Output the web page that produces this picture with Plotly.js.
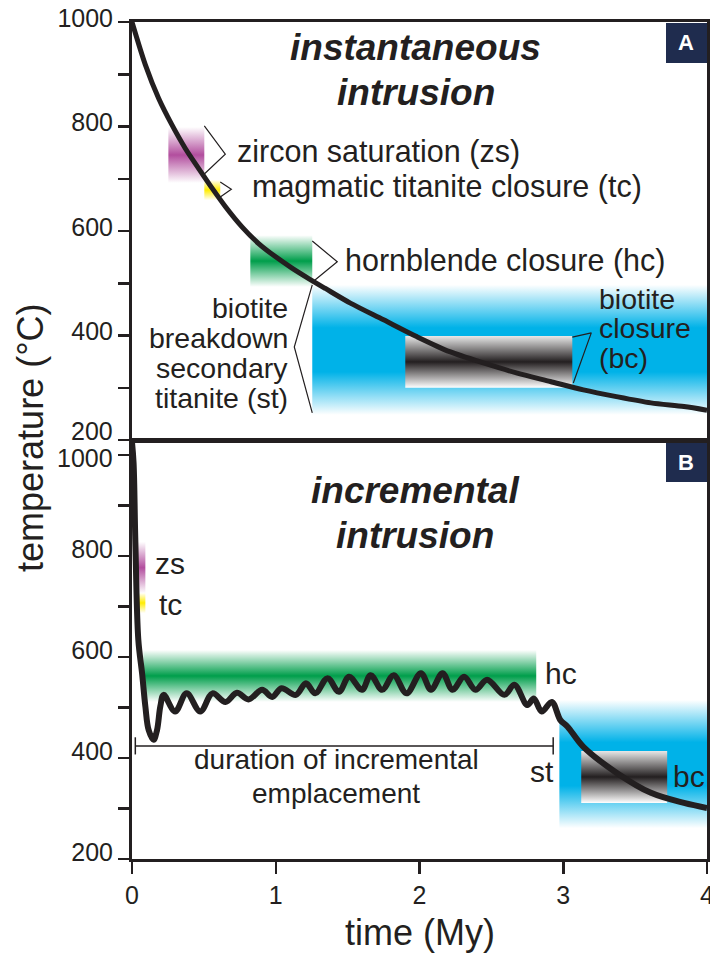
<!DOCTYPE html>
<html>
<head>
<meta charset="utf-8">
<script src="https://cdn.plot.ly/plotly-3.0.1.min.js"></script>
<style>html,body{margin:0;padding:0;background:#fff;}#chart{width:710px;height:953px;}</style>
</head>
<body>
<div id="chart"></div>
<script>
// ---------- DATA ----------
// Panel A: instantaneous intrusion cooling curve (time My, temperature °C)
const timeA = [0, 0.093, 0.185, 0.278, 0.371, 0.463, 0.557, 0.649, 0.765, 0.881, 0.997, 1.113, 1.229, 1.345, 1.519, 1.75, 1.98, 2.21, 2.45, 2.68, 2.91, 3.14, 3.37, 3.61, 3.84, 4.0];
const tempA = [1000, 918, 854, 803, 758, 720, 682, 647, 608, 576, 551, 529, 509, 490, 462, 430, 398, 369, 347, 328, 312, 296, 283, 271, 264, 257];

// Panel B: incremental intrusion thermal history
const timeB = [0, 0.011, 0.023, 0.044, 0.07, 0.093, 0.116, 0.15, 0.174, 0.197, 0.22,
  0.30, 0.38, 0.475, 0.56, 0.65, 0.73, 0.81, 0.905, 0.975, 1.04, 1.14, 1.21, 1.275, 1.36, 1.44, 1.51, 1.60,
  1.66, 1.74, 1.82, 1.91, 2.01, 2.08, 2.16, 2.23, 2.31, 2.39, 2.47, 2.59, 2.66, 2.75, 2.795, 2.85, 2.92,
  2.98, 3.03, 3.14, 3.375, 3.61, 3.84, 4.0];
const tempB = [1025, 984, 832, 634, 568, 502, 455, 436, 455, 502, 525,
  492, 528, 492, 528, 511, 529, 516, 535, 521, 538, 525, 548, 528, 558, 531, 561, 535,
  564, 535, 564, 528, 568, 535, 568, 535, 561, 535, 555, 525, 545, 505, 518, 492, 511,
  475, 462, 422, 370, 331, 311, 301];

// Closure / saturation bands: zs, tc, hc, st (biotite breakdown), bc
const bandKeys = ['zs', 'tc', 'hc', 'st', 'bc'];
const bandA_t0 = [0.253, 0.503, 0.823, 1.254, 1.901];
const bandA_t1 = [0.503, 0.614, 1.254, 4.0, 3.063];
const bandA_T0 = [692, 659, 493, 248, 300];
const bandA_T1 = [799, 698, 592, 497, 399];
const bandB_t0 = [0.023, 0.023, 0.079, 2.973, 3.125];
const bandB_t1 = [0.093, 0.093, 2.812, 4.0, 3.723];
const bandB_T0 = [726, 687, 511, 261, 311];
const bandB_T1 = [828, 727, 614, 515, 414];

// Leader brackets (panel A)
const bracketZsT = [0.503, 0.649, 0.503], bracketZsY = [801, 747, 709];
const bracketTcT = [0.614, 0.691, 0.614], bracketTcY = [694, 680, 665];
const bracketHcT = [1.254, 1.428, 1.254], bracketHcY = [581, 541, 502];
const bracketStT = [1.254, 1.129, 1.254], bracketStY = [497, 378, 252];
const bracketBcT = [3.063, 3.195, 3.07], bracketBcY = [397, 405, 309];

// Duration of incremental emplacement (panel B)
const durationStart = 0.023, durationEnd = 2.93, durationTemp = 424;
const durationCapLow = 407, durationCapHigh = 441;

// Axis ticks
const tempTicks = [200, 300, 400, 500, 600, 700, 800, 900, 1000];
const tempTickTextA = ['', '', '400', '', '600', '', '800', '', '1000'];
const tempTickTextB = ['200', '', '400', '', '600', '', '800', '', ''];
const timeTicks = [0, 1, 2, 3, 4];

// ---------- STYLE ----------
const INK = '#231f20';
const FONT = 'Liberation Sans, Arial, Helvetica, sans-serif';
function fade(r, g, b, plateau) {
  const c = `rgba(${r},${g},${b},1)`, z = `rgba(${r},${g},${b},0)`;
  if (plateau) return [[0, z], [0.33, c], [0.67, c], [1, z]];
  return [[0, z], [0.5, c], [1, z]];
}
const bandScales = {
  zs: fade(178, 78, 158),
  tc: fade(255, 236, 0),
  hc: fade(0, 158, 75),
  st: fade(0, 178, 232, true),
  bc: [[0, '#ffffff'], [0.5, '#231f20'], [1, '#e8e8e8']]
};

const traces = [];
function addBands(t0, t1, T0, T1, xa, ya) {
  bandKeys.forEach((k, i) => {
    traces.push({
      type: 'scatter', mode: 'none', xaxis: xa, yaxis: ya,
      x: [t0[i], t1[i], t1[i], t0[i], t0[i]],
      y: [T0[i], T0[i], T1[i], T1[i], T0[i]],
      fill: 'toself',
      fillgradient: { type: 'vertical', colorscale: bandScales[k], start: T0[i], stop: T1[i] },
      hoverinfo: 'skip', showlegend: false
    });
  });
}
addBands(bandA_t0, bandA_t1, bandA_T0, bandA_T1, 'x', 'y');
addBands(bandB_t0, bandB_t1, bandB_T0, bandB_T1, 'x2', 'y2');

[[bracketZsT, bracketZsY], [bracketTcT, bracketTcY], [bracketHcT, bracketHcY], [bracketStT, bracketStY], [bracketBcT, bracketBcY]]
  .forEach(([xs, ys]) => traces.push({
    type: 'scatter', mode: 'lines', x: xs, y: ys, xaxis: 'x', yaxis: 'y',
    line: { color: INK, width: 1.2 }, hoverinfo: 'skip', showlegend: false
  }));

traces.push({
  type: 'scatter', mode: 'lines', xaxis: 'x2', yaxis: 'y2',
  x: [durationStart, durationStart, null, durationStart, durationEnd, null, durationEnd, durationEnd],
  y: [durationCapLow, durationCapHigh, null, durationTemp, durationTemp, null, durationCapLow, durationCapHigh],
  line: { color: INK, width: 1.5 }, hoverinfo: 'skip', showlegend: false
});

traces.push({
  type: 'scatter', mode: 'lines', x: timeA, y: tempA, xaxis: 'x', yaxis: 'y',
  line: { color: INK, width: 5, shape: 'spline', smoothing: 0.8 }, showlegend: false
});
traces.push({
  type: 'scatter', mode: 'lines', x: timeB, y: tempB, xaxis: 'x2', yaxis: 'y2',
  line: { color: INK, width: 6, shape: 'spline', smoothing: 1 }, showlegend: false
});

const yCommon = {
  tickvals: tempTicks, ticks: 'outside', ticklen: 11, tickwidth: 2.5,
  tickcolor: INK, showline: true, mirror: true, linewidth: 3, linecolor: INK,
  showgrid: false, zeroline: false, tickfont: { family: FONT, size: 25, color: INK }
};
const xCommon = {
  range: [0, 4], showline: true, mirror: true, linewidth: 3, linecolor: INK,
  showgrid: false, zeroline: false, tickcolor: INK
};

function txt(text, x, y, xref, yref, size, extra) {
  return Object.assign({
    text: text, x: x, y: y, xref: xref, yref: yref, showarrow: false,
    font: { family: FONT, size: size, color: INK }, xanchor: 'left', yanchor: 'middle'
  }, extra || {});
}

const annotations = [
  txt('<b><i>instantaneous</i></b>', 1.975, 951, 'x', 'y', 37, { xanchor: 'center' }),
  txt('<b><i>intrusion</i></b>', 1.975, 865, 'x', 'y', 37, { xanchor: 'center' }),
  txt('zircon saturation (zs)', 0.719, 752, 'x', 'y', 30.5),
  txt('magmatic titanite closure (tc)', 0.823, 685, 'x', 'y', 30.5),
  txt('hornblende closure (hc)', 1.471, 544, 'x', 'y', 30.5),
  txt('biotite', 1.101, 453, 'x', 'y', 28.5, { xanchor: 'right' }),
  txt('breakdown', 1.101, 396, 'x', 'y', 28.5, { xanchor: 'right' }),
  txt('secondary', 1.101, 338, 'x', 'y', 28.5, { xanchor: 'right' }),
  txt('titanite (st)', 1.101, 280, 'x', 'y', 28.5, { xanchor: 'right' }),
  txt('biotite', 3.238, 469, 'x', 'y', 28.5),
  txt('closure', 3.238, 414, 'x', 'y', 28.5),
  txt('(bc)', 3.238, 356, 'x', 'y', 28.5),

  txt('<b><i>incremental</i></b>', 1.97, 930, 'x2', 'y2', 37, { xanchor: 'center' }),
  txt('<b><i>intrusion</i></b>', 1.97, 841, 'x2', 'y2', 37, { xanchor: 'center' }),
  txt('zs', 0.148, 785, 'x2', 'y2', 30),
  txt('tc', 0.175, 703, 'x2', 'y2', 30),
  txt('hc', 2.862, 568, 'x2', 'y2', 30),
  txt('st', 2.757, 373, 'x2', 'y2', 30),
  txt('bc', 3.75, 363, 'x2', 'y2', 30),
  txt('duration of incremental', 1.42, 398, 'x2', 'y2', 28, { xanchor: 'center' }),
  txt('emplacement', 1.42, 329, 'x2', 'y2', 28, { xanchor: 'center' }),

  // tick labels that sit at the panel junction (placed as in the reference)
  txt('200', -0.0296, 0.5115, 'paper', 'paper', 25, { xanchor: 'right' }),
  txt('1000', -0.0296, 0.4795, 'paper', 'paper', 25, { xanchor: 'right' }),

  txt('temperature (°C)', -0.1757, 0.503, 'paper', 'paper', 36, { xanchor: 'center', textangle: -90 }),
  txt('time (My)', 0.5, -0.088, 'paper', 'paper', 36, { xanchor: 'center' }),

  { text: '<b>A</b>', x: 0.9643, y: 0.975, xref: 'paper', yref: 'paper', showarrow: false,
    font: { family: FONT, size: 22, color: '#ffffff' }, xanchor: 'center', yanchor: 'middle' },
  { text: '<b>B</b>', x: 0.9643, y: 0.4743, xref: 'paper', yref: 'paper', showarrow: false,
    font: { family: FONT, size: 22, color: '#ffffff' }, xanchor: 'center', yanchor: 'middle' }
];

const layout = {
  width: 710, height: 953,
  margin: { l: 132, r: 3, t: 22, b: 94 },
  paper_bgcolor: '#ffffff', plot_bgcolor: 'rgba(0,0,0,0)',
  showlegend: false,
  xaxis: Object.assign({}, xCommon, { domain: [0, 1], anchor: 'y', showticklabels: false, ticks: '' }),
  yaxis: Object.assign({}, yCommon, { domain: [0.5006, 1], range: [200, 1000], anchor: 'x', ticktext: tempTickTextA, ticklabelshift: -4 }),
  xaxis2: Object.assign({}, xCommon, {
    domain: [0, 1], anchor: 'y2', tickvals: timeTicks, ticks: 'outside', ticklen: 12, tickwidth: 2.5,
    ticklabeloverflow: 'allow', tickfont: { family: FONT, size: 25, color: INK }
  }),
  yaxis2: Object.assign({}, yCommon, { domain: [0, 0.4994], range: [200, 1027.7], anchor: 'x2', ticktext: tempTickTextB, ticklabelshift: -7 }),
  shapes: [
    { type: 'rect', xref: 'paper', yref: 'paper', x0: 0.9287, x1: 1, y0: 0.951, y1: 0.9988,
      fillcolor: '#1f2c4e', line: { width: 0 }, layer: 'above' },
    { type: 'rect', xref: 'paper', yref: 'paper', x0: 0.9287, x1: 1, y0: 0.4504, y1: 0.497,
      fillcolor: '#1f2c4e', line: { width: 0 }, layer: 'above' }
  ],
  annotations: annotations
};

Plotly.newPlot('chart', traces, layout, { displayModeBar: false, staticPlot: true });
</script>
</body>
</html>
